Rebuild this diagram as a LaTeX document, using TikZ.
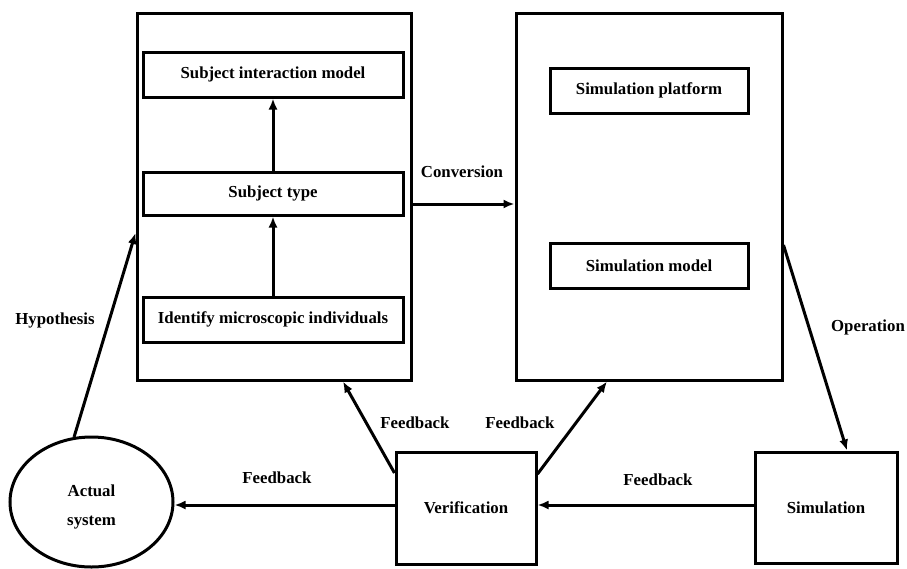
\documentclass[tikz,border=0pt]{standalone}
\usepackage{fontspec}
\setmainfont{Liberation Serif}
\usetikzlibrary{arrows.meta,shapes.geometric,calc}
\tikzset{
  every node/.style={font=\fontsize{16.8}{19}\selectfont\bfseries},
  box/.style={draw=black,line width=3pt,inner sep=0pt,rectangle},
  arr/.style={line width=3pt,-{Latex[length=11pt,width=9pt]}},
  lbl/.style={inner sep=0pt},
}
\begin{document}
\begin{tikzpicture}[x=1pt,y=-1pt]
\useasboundingbox (0,0) rectangle (907,568);
% big containers
\node[box,minimum width=274pt,minimum height=367pt] (L) at (274,196.5) {};
\node[box,minimum width=266pt,minimum height=367pt] (R) at (649,196.5) {};
% left inner boxes
\node[box,minimum width=260pt,minimum height=45pt] (SIM) at (273,74.5) {Subject interaction model};
\node[box,minimum width=260pt,minimum height=43pt] (ST) at (273,193.5) {Subject type};
\node[box,minimum width=260pt,minimum height=45pt] (IMI) at (273,319.5) {Identify microscopic individuals};
% right inner boxes
\node[box,minimum width=198pt,minimum height=45pt] (SP) at (649,90.5) {Simulation platform};
\node[box,minimum width=198pt,minimum height=45pt] (SM) at (649,265.5) {Simulation model};
% bottom nodes
\node[box,minimum width=142pt,minimum height=111pt] (Sim) at (826,507.5) {Simulation};
\node[box,minimum width=140pt,minimum height=112pt] (Ver) at (466,508) {Verification};
\node[draw=black,line width=3pt,ellipse,minimum width=163pt,minimum height=130pt,inner sep=0pt] (A) at (91.5,502) {\raisebox{-10pt}[0pt][0pt]{\begin{tabular}{@{}c@{}}Actual\\[10pt]system\end{tabular}}};
% connectors
\draw[arr] (IMI.north) -- (ST.south);
\draw[arr] (ST.north) -- (SIM.south);
\draw[arr] (L.east |- 0,204) -- (R.west |- 0,204);
\draw[arr] (R.east |- 0,245) -- (Sim.north -| 847,0);
\draw[arr] (Sim.west |- 0,505) -- (Ver.east |- 0,505);
\draw[arr] (Ver.east |- 0,474) -- (R.south -| 607,0);
\draw[arr] (Ver.west |- 0,473) -- (L.south -| 343,0);
\draw[arr] (Ver.west |- 0,505) -- (A.east |- 0,505);
\draw[arr] (A.105) -- (L.west |- 0,233);
% labels
\node[lbl] (lconv) at (462,172) {Conversion};
\node[lbl] (lop) at (868,327) {Operation};
\node[lbl] (lhyp) at (55,320) {Hypothesis};
\node[lbl] (lfb1) at (415,423) {Feedback};
\node[lbl] (lfb2) at (520,423) {Feedback};
\node[lbl] (lfb3) at (277,478) {Feedback};
\node[lbl] (lfb4) at (658,480) {Feedback};
\end{tikzpicture}
\end{document}
